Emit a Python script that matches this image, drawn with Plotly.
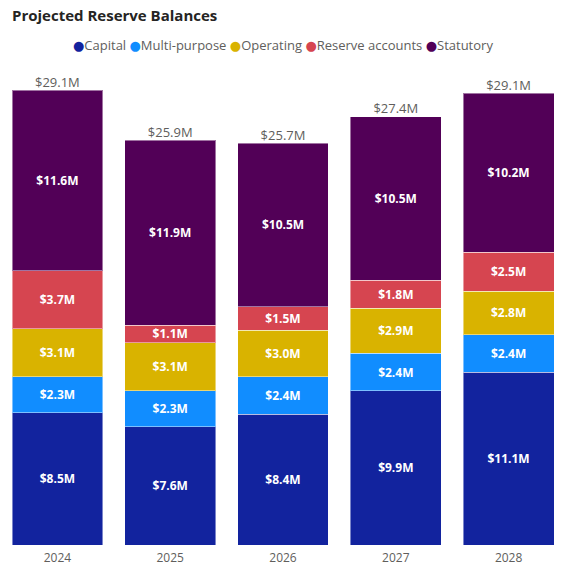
import plotly.graph_objects as go

years = ["2024", "2025", "2026", "2027", "2028"]
capital = [8.5, 7.6, 8.4, 9.9, 11.1]
multi_purpose = [2.3, 2.3, 2.4, 2.4, 2.4]
operating = [3.1, 3.1, 3.0, 2.9, 2.8]
reserve_accounts = [3.7, 1.1, 1.5, 1.8, 2.5]
statutory = [11.6, 11.9, 10.5, 10.5, 10.2]
totals = [29.1, 25.9, 25.7, 27.4, 29.1]

series = [
    ("Capital", capital, "#12239E"),
    ("Multi-purpose", multi_purpose, "#118DFF"),
    ("Operating", operating, "#D9B300"),
    ("Reserve accounts", reserve_accounts, "#D64550"),
    ("Statutory", statutory, "#520057"),
]

font_family = "Open Sans, Noto Sans, DejaVu Sans, sans-serif"
fig = go.Figure()
for name, vals, color in series:
    fig.add_trace(go.Bar(
        x=years, y=vals, name=name,
        marker=dict(color=color, line=dict(color="rgba(255,255,255,0.45)", width=1)),
        text=[f"${v:.1f}M" for v in vals],
        textposition="inside", insidetextanchor="middle",
        constraintext="none",
        textfont=dict(color="white", size=12, family=font_family, weight="bold"),
        showlegend=False,
        hoverinfo="skip",
    ))

stack_tops = [sum(s[1][i] for s in series) for i in range(len(years))]
fig.add_trace(go.Scatter(
    x=years, y=stack_tops, mode="text",
    text=[f"${t:.1f}M" for t in totals],
    textposition="top center",
    textfont=dict(color="#605E5C", size=13, family=font_family),
    showlegend=False, hoverinfo="skip",
))

legend_html = "&nbsp;".join(
    f"<span style='color:{c}'>●</span>{n}" for n, _, c in series
)
fig.add_annotation(
    text=legend_html, xref="paper", yref="paper", x=0.5, y=1.0,
    yshift=25, xanchor="center", yanchor="middle", showarrow=False,
    font=dict(size=13, color="#605E5C", family=font_family),
)

fig.update_layout(
    width=566, height=574,
    barmode="stack", bargap=0.195,
    uniformtext=dict(minsize=12, mode="show"),
    plot_bgcolor="white", paper_bgcolor="white",
    margin=dict(l=1, r=1, t=70, b=29),
    title=dict(
        text="<b>Projected Reserve Balances</b>",
        x=0, xref="container", xanchor="left", y=1, yref="container",
        yanchor="top", pad=dict(l=12, t=10),
        font=dict(size=15, color="#252423", family=font_family),
    ),
    xaxis=dict(
        showgrid=False, zeroline=False, showline=False,
        tickfont=dict(size=12, color="#605E5C", family=font_family),
        ticks="", ticklen=0, ticklabelstandoff=4,
    ),
    yaxis=dict(visible=False, range=[0, 30.5]),
)

fig.write_html("out.html")
